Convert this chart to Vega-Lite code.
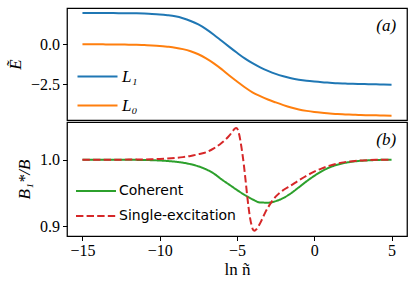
{
  "$schema": "https://vega.github.io/schema/vega-lite/v6.json",
  "padding": {"left": 5, "top": 7, "right": 0, "bottom": 0},
  "spacing": 0,
  "background": "white",
  "resolve": {"scale": {"color": "independent", "strokeDash": "independent", "y": "independent"}, "legend": {"color": "independent", "strokeDash": "independent"}},
  "config": {
    "view": {"stroke": "black", "strokeWidth": 1.25},
    "axis": {"grid": false, "domain": false, "tickColor": "black", "tickSize": 4.5, "tickWidth": 1, "labelFont": "Liberation Serif", "labelFontSize": 16, "labelColor": "black", "labelPadding": 3, "titleFont": "Liberation Serif", "titleFontSize": 17, "titleFontWeight": "normal", "titleColor": "black", "titlePadding": 6},
    "legend": {"orient": "none", "title": null, "symbolType": "M-10,0H10", "symbolSize": 16, "symbolStrokeWidth": 2, "labelOffset": 16, "rowPadding": 11, "padding": 0, "labelColor": "black", "labelLimit": 300}
  },
  "datasets": {
    "energy": [
      {"x": -15, "E": 1.95, "level": "L₁"}, {"x": -14.5, "E": 1.95, "level": "L₁"}, {"x": -14, "E": 1.95, "level": "L₁"}, {"x": -13.5, "E": 1.95, "level": "L₁"}, {"x": -13, "E": 1.95, "level": "L₁"}, {"x": -12.5, "E": 1.945, "level": "L₁"}, {"x": -12, "E": 1.94, "level": "L₁"}, {"x": -11.5, "E": 1.935, "level": "L₁"}, {"x": -11, "E": 1.92, "level": "L₁"}, {"x": -10.5, "E": 1.9, "level": "L₁"}, {"x": -10, "E": 1.87, "level": "L₁"}, {"x": -9.5, "E": 1.82, "level": "L₁"}, {"x": -9, "E": 1.75, "level": "L₁"}, {"x": -8.5, "E": 1.63, "level": "L₁"}, {"x": -8, "E": 1.46, "level": "L₁"}, {"x": -7.5, "E": 1.24, "level": "L₁"}, {"x": -7, "E": 0.95, "level": "L₁"}, {"x": -6.5, "E": 0.6, "level": "L₁"}, {"x": -6, "E": 0.22, "level": "L₁"}, {"x": -5.5, "E": -0.16, "level": "L₁"}, {"x": -5, "E": -0.53, "level": "L₁"}, {"x": -4.5, "E": -0.88, "level": "L₁"}, {"x": -4, "E": -1.18, "level": "L₁"}, {"x": -3.5, "E": -1.44, "level": "L₁"}, {"x": -3, "E": -1.66, "level": "L₁"}, {"x": -2.5, "E": -1.85, "level": "L₁"}, {"x": -2, "E": -2.0, "level": "L₁"}, {"x": -1.5, "E": -2.12, "level": "L₁"}, {"x": -1, "E": -2.21, "level": "L₁"}, {"x": -0.5, "E": -2.28, "level": "L₁"}, {"x": 0, "E": -2.33, "level": "L₁"}, {"x": 0.5, "E": -2.37, "level": "L₁"}, {"x": 1, "E": -2.4, "level": "L₁"}, {"x": 1.5, "E": -2.43, "level": "L₁"}, {"x": 2, "E": -2.45, "level": "L₁"}, {"x": 2.5, "E": -2.47, "level": "L₁"}, {"x": 3, "E": -2.48, "level": "L₁"}, {"x": 3.5, "E": -2.49, "level": "L₁"}, {"x": 4, "E": -2.5, "level": "L₁"}, {"x": 4.5, "E": -2.51, "level": "L₁"}, {"x": 5, "E": -2.52, "level": "L₁"},
      {"x": -15, "E": 0.0, "level": "L₀"}, {"x": -14.5, "E": 0.0, "level": "L₀"}, {"x": -14, "E": 0.0, "level": "L₀"}, {"x": -13.5, "E": -0.005, "level": "L₀"}, {"x": -13, "E": -0.01, "level": "L₀"}, {"x": -12.5, "E": -0.015, "level": "L₀"}, {"x": -12, "E": -0.02, "level": "L₀"}, {"x": -11.5, "E": -0.03, "level": "L₀"}, {"x": -11, "E": -0.05, "level": "L₀"}, {"x": -10.5, "E": -0.07, "level": "L₀"}, {"x": -10, "E": -0.1, "level": "L₀"}, {"x": -9.5, "E": -0.15, "level": "L₀"}, {"x": -9, "E": -0.21, "level": "L₀"}, {"x": -8.5, "E": -0.3, "level": "L₀"}, {"x": -8, "E": -0.43, "level": "L₀"}, {"x": -7.5, "E": -0.62, "level": "L₀"}, {"x": -7, "E": -0.88, "level": "L₀"}, {"x": -6.5, "E": -1.19, "level": "L₀"}, {"x": -6, "E": -1.55, "level": "L₀"}, {"x": -5.5, "E": -1.95, "level": "L₀"}, {"x": -5, "E": -2.32, "level": "L₀"}, {"x": -4.5, "E": -2.68, "level": "L₀"}, {"x": -4, "E": -3.0, "level": "L₀"}, {"x": -3.5, "E": -3.24, "level": "L₀"}, {"x": -3, "E": -3.45, "level": "L₀"}, {"x": -2.5, "E": -3.63, "level": "L₀"}, {"x": -2, "E": -3.8, "level": "L₀"}, {"x": -1.5, "E": -3.95, "level": "L₀"}, {"x": -1, "E": -4.07, "level": "L₀"}, {"x": -0.5, "E": -4.16, "level": "L₀"}, {"x": 0, "E": -4.23, "level": "L₀"}, {"x": 0.5, "E": -4.28, "level": "L₀"}, {"x": 1, "E": -4.32, "level": "L₀"}, {"x": 1.5, "E": -4.36, "level": "L₀"}, {"x": 2, "E": -4.38, "level": "L₀"}, {"x": 2.5, "E": -4.4, "level": "L₀"}, {"x": 3, "E": -4.42, "level": "L₀"}, {"x": 3.5, "E": -4.43, "level": "L₀"}, {"x": 4, "E": -4.44, "level": "L₀"}, {"x": 4.5, "E": -4.45, "level": "L₀"}, {"x": 5, "E": -4.46, "level": "L₀"}
    ],
    "ratio": [
      {"x": -15, "r": 1.0, "kind": "Coherent"}, {"x": -14.5, "r": 1.0, "kind": "Coherent"}, {"x": -14, "r": 1.0, "kind": "Coherent"}, {"x": -13.5, "r": 1.0, "kind": "Coherent"}, {"x": -13, "r": 1.0, "kind": "Coherent"}, {"x": -12.5, "r": 0.9999, "kind": "Coherent"}, {"x": -12, "r": 0.9998, "kind": "Coherent"}, {"x": -11.5, "r": 0.9997, "kind": "Coherent"}, {"x": -11, "r": 0.9995, "kind": "Coherent"}, {"x": -10.5, "r": 0.9992, "kind": "Coherent"}, {"x": -10, "r": 0.9987, "kind": "Coherent"}, {"x": -9.5, "r": 0.998, "kind": "Coherent"}, {"x": -9, "r": 0.997, "kind": "Coherent"}, {"x": -8.5, "r": 0.9955, "kind": "Coherent"}, {"x": -8, "r": 0.9932, "kind": "Coherent"}, {"x": -7.5, "r": 0.99, "kind": "Coherent"}, {"x": -7, "r": 0.9855, "kind": "Coherent"}, {"x": -6.5, "r": 0.9792, "kind": "Coherent"}, {"x": -6, "r": 0.9705, "kind": "Coherent"}, {"x": -5.5, "r": 0.9625, "kind": "Coherent"}, {"x": -5, "r": 0.9545, "kind": "Coherent"}, {"x": -4.5, "r": 0.947, "kind": "Coherent"}, {"x": -4, "r": 0.9405, "kind": "Coherent"}, {"x": -3.5, "r": 0.9358, "kind": "Coherent"}, {"x": -3, "r": 0.9355, "kind": "Coherent"}, {"x": -2.5, "r": 0.9378, "kind": "Coherent"}, {"x": -2, "r": 0.9425, "kind": "Coherent"}, {"x": -1.5, "r": 0.9497, "kind": "Coherent"}, {"x": -1, "r": 0.9585, "kind": "Coherent"}, {"x": -0.5, "r": 0.9675, "kind": "Coherent"}, {"x": 0, "r": 0.9757, "kind": "Coherent"}, {"x": 0.5, "r": 0.9828, "kind": "Coherent"}, {"x": 1, "r": 0.9885, "kind": "Coherent"}, {"x": 1.5, "r": 0.9925, "kind": "Coherent"}, {"x": 2, "r": 0.9953, "kind": "Coherent"}, {"x": 2.5, "r": 0.9971, "kind": "Coherent"}, {"x": 3, "r": 0.9983, "kind": "Coherent"}, {"x": 3.5, "r": 0.999, "kind": "Coherent"}, {"x": 4, "r": 0.9995, "kind": "Coherent"}, {"x": 4.5, "r": 0.9998, "kind": "Coherent"}, {"x": 5, "r": 1.0, "kind": "Coherent"},
      {"x": -15, "r": 1.0, "kind": "Single-excitation"}, {"x": -14, "r": 1.0, "kind": "Single-excitation"}, {"x": -13, "r": 1.0, "kind": "Single-excitation"}, {"x": -12, "r": 1.0001, "kind": "Single-excitation"}, {"x": -11, "r": 1.0003, "kind": "Single-excitation"}, {"x": -10.5, "r": 1.0006, "kind": "Single-excitation"}, {"x": -10, "r": 1.001, "kind": "Single-excitation"}, {"x": -9.5, "r": 1.0016, "kind": "Single-excitation"}, {"x": -9, "r": 1.0025, "kind": "Single-excitation"}, {"x": -8.5, "r": 1.0038, "kind": "Single-excitation"}, {"x": -8, "r": 1.0056, "kind": "Single-excitation"}, {"x": -7.5, "r": 1.0082, "kind": "Single-excitation"}, {"x": -7, "r": 1.011, "kind": "Single-excitation"}, {"x": -6.5, "r": 1.017, "kind": "Single-excitation"}, {"x": -6, "r": 1.025, "kind": "Single-excitation"}, {"x": -5.75, "r": 1.03, "kind": "Single-excitation"}, {"x": -5.5, "r": 1.036, "kind": "Single-excitation"}, {"x": -5.3, "r": 1.042, "kind": "Single-excitation"}, {"x": -5.15, "r": 1.0465, "kind": "Single-excitation"}, {"x": -5.05, "r": 1.0475, "kind": "Single-excitation"}, {"x": -4.95, "r": 1.045, "kind": "Single-excitation"}, {"x": -4.85, "r": 1.037, "kind": "Single-excitation"}, {"x": -4.75, "r": 1.024, "kind": "Single-excitation"}, {"x": -4.65, "r": 1.009, "kind": "Single-excitation"}, {"x": -4.55, "r": 0.991, "kind": "Single-excitation"}, {"x": -4.45, "r": 0.97, "kind": "Single-excitation"}, {"x": -4.35, "r": 0.948, "kind": "Single-excitation"}, {"x": -4.25, "r": 0.928, "kind": "Single-excitation"}, {"x": -4.15, "r": 0.912, "kind": "Single-excitation"}, {"x": -4.05, "r": 0.901, "kind": "Single-excitation"}, {"x": -3.95, "r": 0.8945, "kind": "Single-excitation"}, {"x": -3.85, "r": 0.8935, "kind": "Single-excitation"}, {"x": -3.75, "r": 0.8955, "kind": "Single-excitation"}, {"x": -3.6, "r": 0.9005, "kind": "Single-excitation"}, {"x": -3.4, "r": 0.9095, "kind": "Single-excitation"}, {"x": -3.2, "r": 0.9195, "kind": "Single-excitation"}, {"x": -3.0, "r": 0.928, "kind": "Single-excitation"}, {"x": -2.75, "r": 0.937, "kind": "Single-excitation"}, {"x": -2.5, "r": 0.9445, "kind": "Single-excitation"}, {"x": -2, "r": 0.9545, "kind": "Single-excitation"}, {"x": -1.5, "r": 0.9615, "kind": "Single-excitation"}, {"x": -1, "r": 0.969, "kind": "Single-excitation"}, {"x": -0.5, "r": 0.976, "kind": "Single-excitation"}, {"x": 0, "r": 0.982, "kind": "Single-excitation"}, {"x": 0.5, "r": 0.987, "kind": "Single-excitation"}, {"x": 1, "r": 0.991, "kind": "Single-excitation"}, {"x": 1.5, "r": 0.9942, "kind": "Single-excitation"}, {"x": 2, "r": 0.9963, "kind": "Single-excitation"}, {"x": 2.5, "r": 0.9977, "kind": "Single-excitation"}, {"x": 3, "r": 0.9987, "kind": "Single-excitation"}, {"x": 3.5, "r": 0.9993, "kind": "Single-excitation"}, {"x": 4, "r": 0.9997, "kind": "Single-excitation"}, {"x": 4.5, "r": 0.9999, "kind": "Single-excitation"}, {"x": 5, "r": 1.0, "kind": "Single-excitation"}
    ]
  },
  "vconcat": [
    {
      "width": 340,
      "height": 112,
      "layer": [
        {
          "data": {"name": "energy"},
          "mark": {"type": "line", "strokeWidth": 2, "interpolate": "monotone"},
          "encoding": {
            "x": {"field": "x", "type": "quantitative", "scale": {"domain": [-16, 6], "nice": false}, "axis": null},
            "y": {"field": "E", "type": "quantitative", "scale": {"domain": [-4.73, 2.27], "nice": false, "zero": false}, "axis": {"title": "Ẽ", "titleFont": "Liberation Serif", "titleFontStyle": "italic", "labelFont": "Liberation Serif", "values": [-2.5, 0], "format": ".1f"}},
            "color": {"field": "level", "type": "nominal", "scale": {"domain": ["L₁", "L₀"], "range": ["#1f77b4", "#ff7f0e"]}, "legend": {"legendX": 22, "legendY": 60, "labelFont": "Liberation Serif", "labelFontStyle": "italic", "labelFontSize": 17}}
          }
        },
        {
          "data": {"values": [{"tag": "(a)"}]},
          "mark": {"type": "text", "align": "right", "baseline": "middle", "font": "Liberation Serif", "fontStyle": "italic", "fontSize": 17, "color": "black"},
          "encoding": {
            "x": {"datum": 5.3, "type": "quantitative"},
            "y": {"datum": 1.15, "type": "quantitative"},
            "text": {"field": "tag"}
          }
        }
      ]
    },
    {
      "width": 340,
      "height": 114,
      "layer": [
        {
          "data": {"name": "ratio"},
          "mark": {"type": "line", "strokeWidth": 2, "interpolate": "monotone"},
          "encoding": {
            "x": {"field": "x", "type": "quantitative", "scale": {"domain": [-16, 6], "nice": false}, "axis": {"title": "ln ñ", "titleFont": "Liberation Serif", "labelFont": "Liberation Serif", "labelPadding": 2, "titlePadding": 3, "values": [-15, -10, -5, 0, 5], "format": "d"}},
            "y": {"field": "r", "type": "quantitative", "scale": {"domain": [0.8855, 1.0565], "nice": false, "zero": false}, "axis": {"title": "B₁*/B", "titleFont": "Liberation Serif", "titleFontStyle": "italic", "labelFont": "Liberation Serif", "values": [0.9, 1.0], "format": ".1f"}},
            "color": {"field": "kind", "type": "nominal", "scale": {"domain": ["Coherent", "Single-excitation"], "range": ["#2ca02c", "#d62728"]}, "legend": {"legendX": 22, "legendY": 62, "labelFont": "DejaVu Sans", "labelFontSize": 14}},
            "strokeDash": {"field": "kind", "type": "nominal", "scale": {"domain": ["Coherent", "Single-excitation"], "range": [[1, 0], [7.4, 3.2]]}, "legend": {"legendX": 22, "legendY": 62, "labelFont": "DejaVu Sans", "labelFontSize": 14}}
          }
        },
        {
          "data": {"values": [{"tag": "(b)"}]},
          "mark": {"type": "text", "align": "right", "baseline": "middle", "font": "Liberation Serif", "fontStyle": "italic", "fontSize": 17, "color": "black"},
          "encoding": {
            "x": {"datum": 5.3, "type": "quantitative"},
            "y": {"datum": 1.03, "type": "quantitative"},
            "text": {"field": "tag"}
          }
        }
      ]
    }
  ]
}
